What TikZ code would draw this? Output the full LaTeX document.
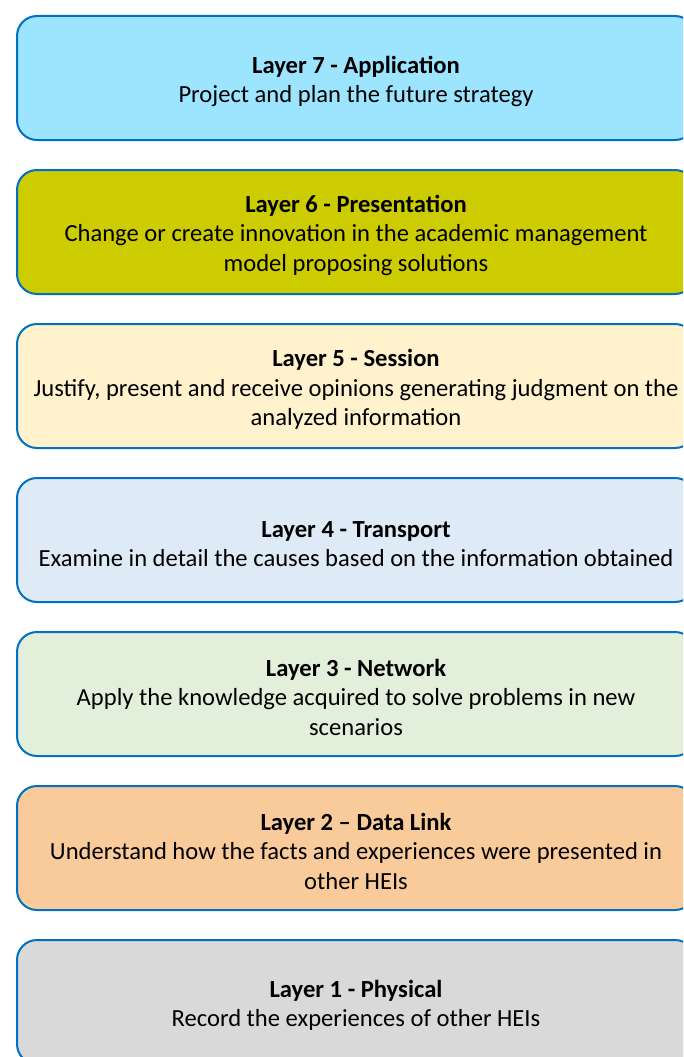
\documentclass[tikz,border=0pt]{standalone}
\usepackage{fontspec}
\setmainfont{Carlito}
\usetikzlibrary{positioning}
\definecolor{layerline}{HTML}{0070C0}
\definecolor{appfill}{RGB}{157,229,255}
\definecolor{presfill}{RGB}{204,204,0}
\definecolor{sessfill}{RGB}{255,242,204}
\definecolor{transfill}{RGB}{222,235,247}
\definecolor{netfill}{RGB}{226,239,218}
\definecolor{linkfill}{RGB}{250,203,154}
\definecolor{physfill}{RGB}{217,217,217}
\newcommand\layertitle[1]{\rule{0pt}{24pt}\textbf{#1}}

\begin{document}
\begin{tikzpicture}[x=1pt,y=1pt,node distance=28pt,
    layerbox/.style={draw=layerline, line width=2pt, rounded corners=20pt,
      minimum width=678pt, minimum height=124pt, inner sep=0pt, align=center,
      font=\fontsize{24.6}{29.5}\selectfont}]
  \useasboundingbox (0,0) rectangle (683,-1057);
  \clip (0,0) rectangle (683,-1057);
  % Layers, from top to bottom
  \node[layerbox, fill=appfill, anchor=north west] (application) at (16,-15) {\layertitle{Layer 7 - Application}\\Project and plan the future strategy};
  \node[layerbox, fill=presfill, below=of application] (presentation) {\layertitle{Layer 6 - Presentation}\\Change or create innovation in the academic management\\model proposing solutions};
  \node[layerbox, fill=sessfill, below=of presentation] (session) {\layertitle{Layer 5 - Session}\\Justify, present and receive opinions generating judgment on the\\analyzed information};
  \node[layerbox, fill=transfill, below=of session] (transport) {\layertitle{Layer 4 - Transport}\\Examine in detail the causes based on the information obtained};
  \node[layerbox, fill=netfill, below=of transport] (network) {\layertitle{Layer 3 - Network}\\Apply the knowledge acquired to solve problems in new\\scenarios};
  \node[layerbox, fill=linkfill, below=of network] (datalink) {\layertitle{Layer 2 -- Data Link}\\Understand how the facts and experiences were presented in\\other HEIs};
  \node[layerbox, fill=physfill, below=of datalink] (physical) {\layertitle{Layer 1 - Physical}\\Record the experiences of other HEIs};
\end{tikzpicture}
\end{document}
